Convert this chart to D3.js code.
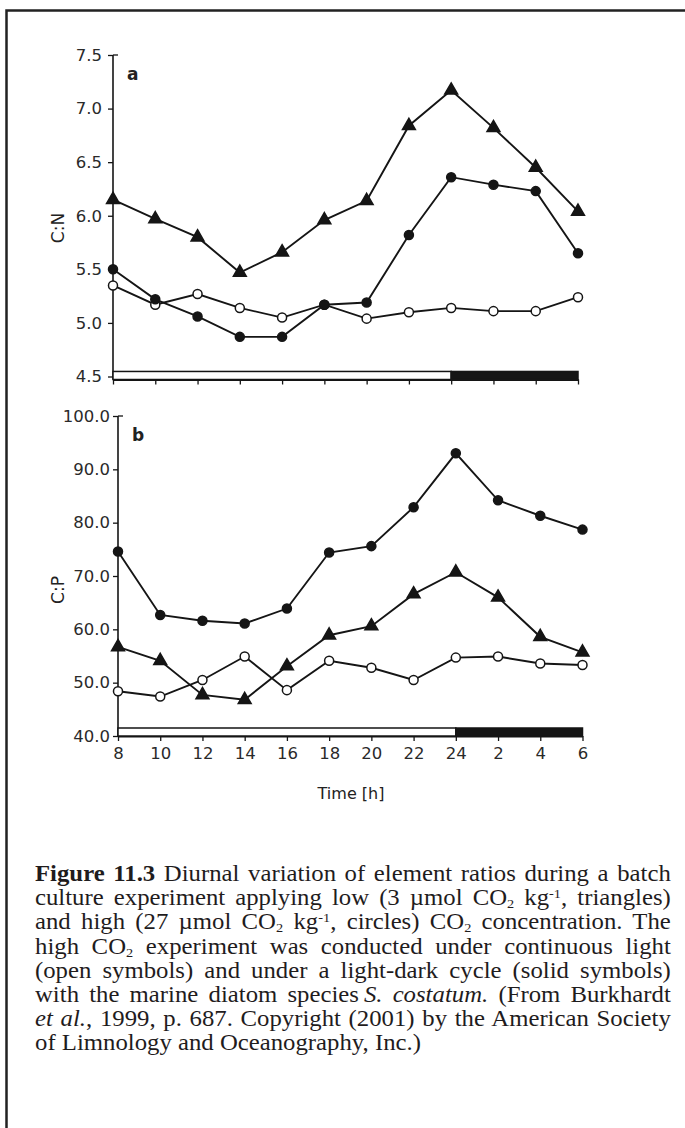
<!DOCTYPE html>
<html>
<head>
<meta charset="utf-8">
<script src="https://cdn.jsdelivr.net/npm/d3@7/dist/d3.min.js"></script>
<style>
  html, body { margin: 0; padding: 0; background: #fff; }
  body { width: 685px; height: 1128px; position: relative; overflow: hidden; }
  svg { position: absolute; left: 0; top: 0; }
  #caption { position: absolute; left: 35px; top: 862px; width: 578px;
    transform: scaleX(1.1); transform-origin: 0 0;
    font-family: "Liberation Serif", "Times New Roman", serif; font-size: 22.5px;
    line-height: 24.2px; color: #1f1c1d; word-spacing: -3px; }
  #caption div { text-align: justify; text-align-last: justify; white-space: nowrap; }
  #caption div.last { text-align-last: left; word-spacing: 0; }
  #caption sub { font-size: 58%; vertical-align: -3px; line-height: 0; }
  #caption sup { font-size: 58%; vertical-align: 7px; line-height: 0; }
</style>
</head>
<body>
<svg id="chart" width="685" height="1128"></svg>
<div id="caption">
  <div><b>Figure 11.3</b> Diurnal variation of element ratios during a batch</div>
  <div>culture experiment applying low (3 µmol CO<sub>2</sub> kg<sup>-1</sup>, triangles)</div>
  <div>and high (27 µmol CO<sub>2</sub> kg<sup>-1</sup>, circles) CO<sub>2</sub> concentration. The</div>
  <div>high CO<sub>2</sub> experiment was conducted under continuous light</div>
  <div>(open symbols) and under a light-dark cycle (solid symbols)</div>
  <div>with the marine diatom species&#8201;<i>S. costatum.</i> (From Burkhardt</div>
  <div><i>et al.</i>, 1999, p. 687. Copyright (2001) by the American Society</div>
  <div class="last">of Limnology and Oceanography, Inc.)</div>
</div>
<script>
// ---- data ----
const times = ["8","10","12","14","16","18","20","22","24","2","4","6"];
const lightPhase = ["8","24"];   // light period (open bar)
const darkPhase = ["24","6"];    // dark period (solid bar)

// Panel a: C:N
const cnTicks = [4.5, 5.0, 5.5, 6.0, 6.5, 7.0, 7.5];
const cnLowCO2 = [6.15, 5.97, 5.80, 5.47, 5.66, 5.96, 6.14, 6.84, 7.17, 6.82, 6.45, 6.04];
const cnHighLD = [5.50, 5.22, 5.06, 4.87, 4.87, 5.17, 5.19, 5.82, 6.36, 6.29, 6.23, 5.65];
const cnHighCL = [5.35, 5.17, 5.27, 5.14, 5.05, 5.17, 5.04, 5.10, 5.14, 5.11, 5.11, 5.24];

// Panel b: C:P
const cpTicks = [40, 50, 60, 70, 80, 90, 100];
const cpLowCO2 = [56.7, 54.1, 47.7, 46.8, 53.1, 58.9, 60.6, 66.6, 70.7, 66.0, 58.6, 55.7];
const cpHighLD = [74.6, 62.7, 61.6, 61.1, 63.9, 74.4, 75.6, 82.9, 93.0, 84.2, 81.3, 78.7];
const cpHighCL = [48.4, 47.4, 50.5, 54.9, 48.6, 54.1, 52.8, 50.5, 54.7, 54.9, 53.6, 53.3];

const svg = d3.select("#chart");
const INK = "#151515";
const FONT = "DejaVu Sans, Verdana, sans-serif";

// frame (open at right/bottom edges as cropped)
svg.append("rect").attr("x", 6.5).attr("y", 10.5).attr("width", 700).attr("height", 1140)
  .attr("fill", "none").attr("stroke", "#222").attr("stroke-width", 2.5);

function panel(cfg) {
  const g = svg.append("g");
  const x = d3.scalePoint().domain(times).range(cfg.xr).padding(0);
  const y = d3.scaleLinear().domain(cfg.ydom).range(cfg.yr);
  const barTop = y(cfg.barVals[1]), barBot = y(cfg.barVals[0]);

  // y axis
  const ya = d3.axisLeft(y).tickValues(cfg.ticks).tickFormat(d3.format(".1f"))
    .tickSize(5).tickSizeOuter(0).tickPadding(cfg.pad);
  const yg = g.append("g").attr("transform", `translate(${cfg.xr[0]},0)`).call(ya);
  yg.select(".domain").remove();
  yg.selectAll("line").attr("stroke", INK).attr("stroke-width", 1.3);
  yg.selectAll("text").attr("font-family", FONT)
    .attr("font-size", 16.5).attr("fill", "#2a2a2a");
  g.append("line").attr("x1", cfg.xr[0]).attr("x2", cfg.xr[0])
    .attr("y1", y(cfg.ydom[1])).attr("y2", barBot)
    .attr("stroke", INK).attr("stroke-width", 1.6);
  g.append("line").attr("x1", cfg.xr[0]).attr("x2", cfg.xr[0] + 5)
    .attr("y1", y(cfg.ydom[1])).attr("y2", y(cfg.ydom[1]))
    .attr("stroke", INK).attr("stroke-width", 1.3);

  // x axis
  const xa = d3.axisBottom(x).tickSize(5).tickSizeOuter(0).tickPadding(6);
  if (!cfg.xLabels) xa.tickFormat("");
  const xg = g.append("g").attr("transform", `translate(0,${barBot})`).call(xa);
  xg.select(".domain").attr("stroke", INK).attr("stroke-width", 2);
  xg.selectAll("line").attr("stroke", INK).attr("stroke-width", 1.3);
  xg.selectAll("text").attr("font-family", FONT)
    .attr("font-size", 16.5).attr("fill", "#2a2a2a");

  // light/dark bar
  g.append("rect").attr("x", x(lightPhase[0])).attr("y", barTop)
    .attr("width", x(lightPhase[1]) - x(lightPhase[0])).attr("height", barBot - barTop)
    .attr("fill", "#fff").attr("stroke", INK).attr("stroke-width", 1.5);
  g.append("rect").attr("x", x(darkPhase[0])).attr("y", barTop)
    .attr("width", x(darkPhase[1]) - x(darkPhase[0])).attr("height", barBot - barTop)
    .attr("fill", INK).attr("stroke", INK).attr("stroke-width", 1.5);

  // y label
  g.append("text").attr("transform", `translate(${cfg.labX},${cfg.labY}) rotate(-90)`)
    .attr("text-anchor", "middle").attr("dominant-baseline", "central")
    .attr("font-family", FONT).attr("font-size", 17)
    .attr("fill", "#222").text(cfg.ylabel);
  // panel letter
  g.append("text").attr("x", cfg.xr[0] + 14).attr("y", y(cfg.ydom[1]) + 25)
    .attr("font-family", FONT).attr("font-weight", "bold")
    .attr("font-size", 17).attr("fill", "#222").text(cfg.letter);

  const line = d3.line().x((d, i) => x(times[i])).y(d => y(d));
  const series = [
    {vals: cfg.low, shape: "tri", fill: INK},
    {vals: cfg.cl, shape: "circ", fill: "#fff"},
    {vals: cfg.ld, shape: "circ", fill: INK}
  ];
  series.forEach(s => {
    g.append("path").datum(s.vals).attr("d", line)
      .attr("fill", "none").attr("stroke", INK).attr("stroke-width", 1.9);
  });
  series.forEach(s => {
    const sym = d3.symbol().type(s.shape === "tri" ? d3.symbolTriangle : d3.symbolCircle)
      .size(s.shape === "tri" ? 72 : 64);
    g.selectAll(null).data(s.vals).join("path")
      .attr("transform", (d, i) => `translate(${x(times[i])},${y(d)})`)
      .attr("d", sym).attr("fill", s.fill).attr("stroke", INK).attr("stroke-width", 1.5);
  });
  return {x, y};
}

panel({xr: [113, 578], ydom: [4.5, 7.5], yr: [376.5, 55], ticks: cnTicks,
  barVals: [4.472, 4.547], pad: 6, xLabels: false, ylabel: "C:N", labX: 58, labY: 228,
  letter: "a", low: cnLowCO2, ld: cnHighLD, cl: cnHighCL});

panel({xr: [118, 582.5], ydom: [40, 100], yr: [736, 416], ticks: cpTicks,
  barVals: [40, 41.5], pad: 3, xLabels: true, ylabel: "C:P", labX: 58, labY: 590,
  letter: "b", low: cpLowCO2, ld: cpHighLD, cl: cpHighCL});

svg.append("text").attr("x", 351).attr("y", 799).attr("text-anchor", "middle")
  .attr("font-family", FONT).attr("font-size", 16)
  .attr("fill", "#222").text("Time [h]");
</script>
</body>
</html>
